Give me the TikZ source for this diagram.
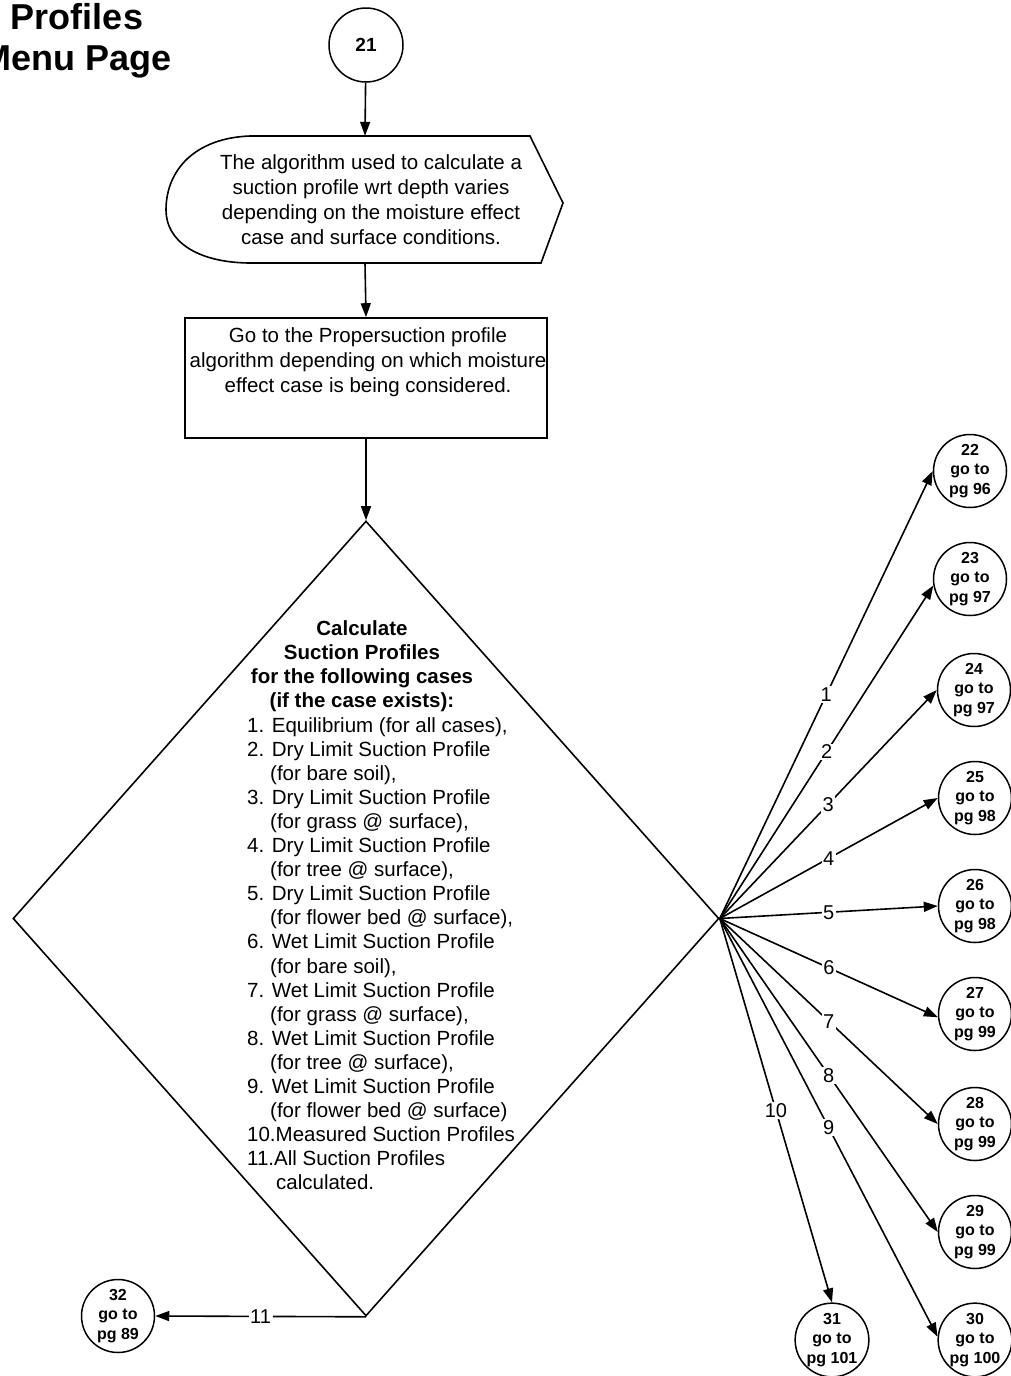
\documentclass[tikz,border=0pt]{standalone}
\usepackage{fontspec}
\setmainfont{Liberation Sans}
\usetikzlibrary{shapes.geometric,arrows.meta}
\begin{document}
\begin{tikzpicture}[x=1pt,y=-1pt,
  line/.style={line width=1.6pt},
  arr/.style={line width=1.6pt,-{Triangle[length=14pt,width=10pt]}},
  pgc/.style={circle,draw,line width=1.5pt,minimum size=73pt,inner sep=0pt,align=center,font=\bfseries\fontsize{16}{19.5}\selectfont},
  lbl/.style={fill=white,inner sep=1.5pt,font=\fontsize{20}{24}\selectfont},
  txt/.style={align=center,inner sep=0pt,font=\fontsize{20.5}{25}\selectfont},
]
\useasboundingbox (0,0) rectangle (1011,1376);
% title
\node[align=center,inner sep=0pt,font=\bfseries\fontsize{36}{41}\selectfont] (title) at (77,41) {Profiles\\Menu Page};
% start circle
\node[pgc,minimum size=74pt,font=\bfseries\fontsize{19}{22}\selectfont] (c21) at (366,45) {21};
% display shape
\node[minimum width=397pt,minimum height=127pt,inner sep=0pt] (disp) at (365,199.5) {};
\draw[line] (250,136) -- (530,136) -- (563,203) -- (541,263) -- (248,263)
  .. controls (195,262) and (166,240) .. (166,210)
  .. controls (166,170) and (195,138) .. (250,136) -- cycle;
\node[txt] (disptext) at (371,200) {The algorithm used to calculate a\\suction profile wrt depth varies\\depending on the moisture effect\\case and surface conditions.};
% box
\node[draw,line width=1.6pt,minimum width=362pt,minimum height=120pt,inner sep=0pt] (box) at (366,378) {};
\node[txt] (boxtext) at (368,362) {Go to the Propersuction profile\\algorithm depending on which moisture\\effect case is being considered.};
% diamond
\node[diamond,draw,line width=1.6pt,minimum width=706pt,minimum height=795pt,inner sep=0pt] (dia) at (366,918.5) {};
\node[anchor=north,align=center,inner sep=0pt,font=\bfseries\fontsize{20.5}{24.1}\selectfont] (hdr) at (362,620) {Calculate\\Suction Profiles\\for the following cases\\(if the case exists):};
\node[anchor=north west,align=left,inner sep=0pt,font=\fontsize{20.5}{24.1}\selectfont] (list) at (247,717) {1. Equilibrium (for all cases),\\
2. Dry Limit Suction Profile\\
\hspace*{23pt}(for bare soil),\\
3. Dry Limit Suction Profile\\
\hspace*{23pt}(for grass @ surface),\\
4. Dry Limit Suction Profile\\
\hspace*{23pt}(for tree @ surface),\\
5. Dry Limit Suction Profile\\
\hspace*{23pt}(for flower bed @ surface),\\
6. Wet Limit Suction Profile\\
\hspace*{23pt}(for bare soil),\\
7. Wet Limit Suction Profile\\
\hspace*{23pt}(for grass @ surface),\\
8. Wet Limit Suction Profile\\
\hspace*{23pt}(for tree @ surface),\\
9. Wet Limit Suction Profile\\
\hspace*{23pt}(for flower bed @ surface)\\
10.Measured Suction Profiles\\
11.All Suction Profiles\\
\hspace*{29pt}calculated.};
% target circles
\node[pgc] (c22) at (970,471) {22\\go to\\pg 96};
\node[pgc] (c23) at (970,579) {23\\go to\\pg 97};
\node[pgc] (c24) at (974,690) {24\\go to\\pg 97};
\node[pgc] (c25) at (975,798) {25\\go to\\pg 98};
\node[pgc] (c26) at (975,906) {26\\go to\\pg 98};
\node[pgc] (c27) at (975,1014) {27\\go to\\pg 99};
\node[pgc] (c28) at (975,1124) {28\\go to\\pg 99};
\node[pgc] (c29) at (975,1232) {29\\go to\\pg 99};
\node[pgc] (c30) at (975,1340) {30\\go to\\pg 100};
\node[pgc] (c31) at (832,1340) {31\\go to\\pg 101};
\node[pgc] (c32) at (118,1316) {32\\go to\\pg 89};
% main flow
\draw[arr] (c21) -- (disp.north);
\draw[arr] (disp.south) -- (box.north);
\draw[arr] (box.south) -- (dia.north);
% branches
\draw[arr] (dia.east) -- node[lbl]{1} (c22.west);
\draw[arr] (dia.east) -- node[lbl]{2} (c23.190);
\draw[arr] (dia.east) -- node[lbl]{3} (c24.west);
\draw[arr] (dia.east) -- node[lbl]{4} (c25.west);
\draw[arr] (dia.east) -- node[lbl]{5} (c26.west);
\draw[arr] (dia.east) -- node[lbl]{6} (c27.185);
\draw[arr] (dia.east) -- node[lbl]{7} (c28.west);
\draw[arr] (dia.east) -- node[lbl]{8} (c29.west);
\draw[arr] (dia.east) -- node[lbl]{9} (c30.175);
\draw[arr] (dia.east) -- node[lbl]{10} (c31.north);
\draw[arr] (dia.south) -- node[lbl]{11} (c32.east);
\end{tikzpicture}
\end{document}
